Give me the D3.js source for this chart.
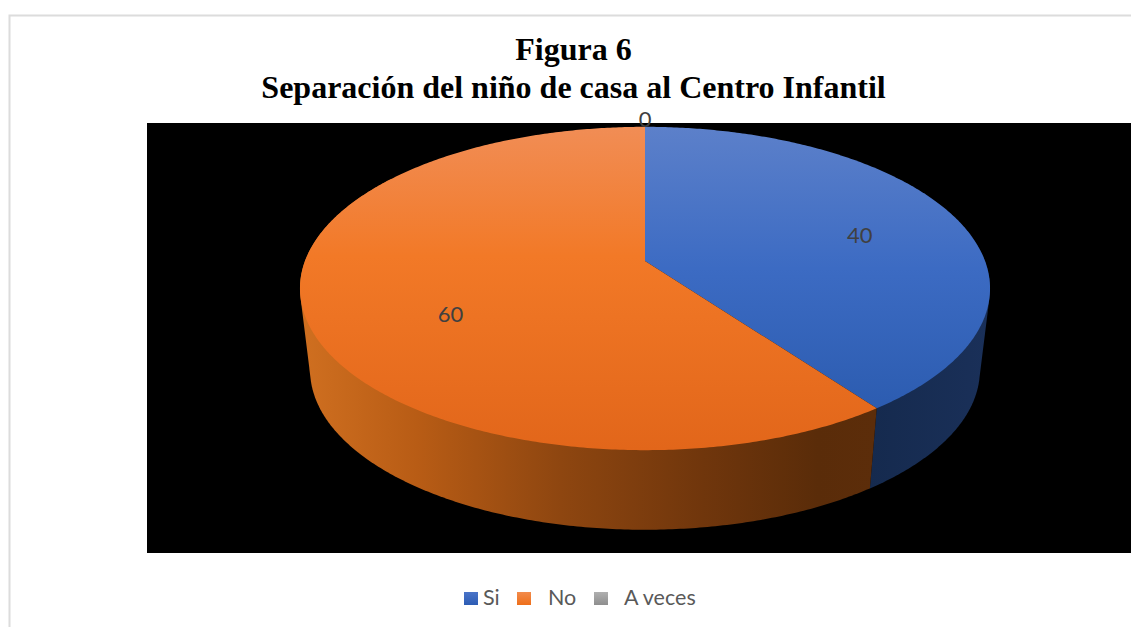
<!DOCTYPE html>
<html>
<head>
<meta charset="utf-8">
<script src="https://cdn.jsdelivr.net/npm/d3@7"></script>
<style>
    html, body { margin: 0; padding: 0; background: #fff; overflow: hidden; }
    svg { display: block; }
</style>
</head>
<body>
<div id="PieChartDiv"></div>
<script>
var categories = ["Si", "No", "A veces"];
var values = [40, 60, 0];
var titleLines = ["Figura 6", "Separación del niño de casa al Centro Infantil"];

var width = 1131;
var height = 628;

var svg = d3.select("#PieChartDiv").append("svg")
    .attr("width", width)
    .attr("height", height);

var defs = svg.append("defs");

function addGradient(id, attrs, stops) {
    var grad = defs.append("linearGradient")
        .attr("id", id)
        .attr("gradientUnits", "userSpaceOnUse");
    Object.keys(attrs).forEach(function(k) { grad.attr(k, attrs[k]); });
    stops.forEach(function(s) {
        grad.append("stop").attr("offset", s[0]).attr("stop-color", s[1]);
    });
}

//Top of the pie is lighter at the back, side gets darker towards the right
addGradient("topSi", {x1: 0, x2: 0, y1: 127, y2: 410},
    [[0, "#5c80ca"], [0.5, "#3c6bc3"], [1, "#2c5cb0"]]);
addGradient("topNo", {x1: 0, x2: 0, y1: 127, y2: 450},
    [[0, "#f18d55"], [0.4, "#f27927"], [1, "#e2661a"]]);
addGradient("sideSi", {x1: 870, x2: 990, y1: 0, y2: 0},
    [[0, "#152a4e"], [1, "#1a3059"]]);
addGradient("sideNo", {x1: 303, x2: 875, y1: 0, y2: 0},
    [[0, "#cf6f20"], [0.2, "#b85c15"], [0.45, "#8e4610"], [0.7, "#70360c"], [0.9, "#5a2c09"], [1, "#5c2d0a"]]);
addGradient("keySi", {x1: 0, x2: 0, y1: 592, y2: 605}, [[0, "#4a74c8"], [1, "#2c5cb4"]]);
addGradient("keyNo", {x1: 0, x2: 0, y1: 592, y2: 605}, [[0, "#f28b4c"], [1, "#ee6f1a"]]);
addGradient("keyVeces", {x1: 0, x2: 0, y1: 592, y2: 605}, [[0, "#b0b0b0"], [1, "#8e8e8e"]]);

var topFills = ["url(#topSi)", "url(#topNo)", "#a5a5a5"];
var sideFills = ["url(#sideSi)", "url(#sideNo)", "#555"];
var keyFills = ["url(#keySi)", "url(#keyNo)", "url(#keyVeces)"];

//outer border, top and left only reach the picture
svg.append("path")
    .attr("d", "M9.5,627V15.5H" + width)
    .attr("fill", "none")
    .attr("stroke", "#dcdcdc")
    .attr("stroke-width", 2);

svg.append("rect")
    .attr("x", 147)
    .attr("y", 123)
    .attr("width", width - 147)
    .attr("height", 430)
    .attr("fill", "#000");

//Perspective projection of the disc. k is the strength of the perspective.
var k = 0.17;
var topFace = {cx: 645, cy: 261, rx: 340, ry: 157};
var bottomFace = {cx: 645, cy: 343, rx: 330, ry: 155};

function project(face, angle, r) {
    var u = Math.sin(angle) * r;
    var v = -Math.cos(angle) * r;
    var s = 1 / (1 - k * v);
    return [face.cx + face.rx * u * s, face.cy + face.ry * v * s];
}

var pie = d3.pie().sort(null).value(function(d) { return d; });
var arcs = pie(values);
var line = d3.line();

function angles(a0, a1) {
    var n = Math.max(2, Math.ceil((a1 - a0) / 0.01));
    return d3.range(n + 1).map(function(i) { return a0 + (a1 - a0) * i / n; });
}

//Side walls first, only the part that faces the viewer.
//The hull of both rims gives the straight silhouette at the far left and right,
//the top face drawn afterwards hides the upper chord.
var sideFrom = 55 * Math.PI / 180;
var sideTo = 305 * Math.PI / 180;

svg.append("g").selectAll("path")
    .data(arcs.filter(function(d) { return d.value > 0; }))
    .enter().append("path")
    .attr("d", function(d) {
        var list = angles(Math.max(d.startAngle, sideFrom), Math.min(d.endAngle, sideTo));
        var upper = list.map(function(a) { return project(topFace, a, 1); });
        var lower = list.map(function(a) { return project(bottomFace, a, 1); });
        return line(d3.polygonHull(upper.concat(lower))) + "Z";
    })
    .attr("fill", function(d) { return sideFills[d.index]; });

svg.append("g").selectAll("path")
    .data(arcs.filter(function(d) { return d.value > 0; }))
    .enter().append("path")
    .attr("d", function(d) {
        var rim = angles(d.startAngle, d.endAngle).map(function(a) { return project(topFace, a, 1); });
        return line([[topFace.cx, topFace.cy]].concat(rim)) + "Z";
    })
    .attr("fill", function(d) { return topFills[d.index]; });

//Data labels. Radius and angle nudge put them where the original sits.
var labelRadius = [0.672, 0.628, 1.07];
var labelNudge = [3.3, -12.5, 0];

svg.append("g").selectAll("text")
    .data(arcs)
    .enter().append("text")
    .attr("transform", function(d) {
        var mid = (d.startAngle + d.endAngle) / 2 + labelNudge[d.index] * Math.PI / 180;
        return "translate(" + project(topFace, mid, labelRadius[d.index]) + ")";
    })
    .attr("text-anchor", "middle")
    .attr("dy", "0.36em")
    .style("font", "22px Lato, sans-serif")
    .style("fill", "#404040")
    .text(function(d) { return d.value; });

//Title
svg.append("g").selectAll("text")
    .data(titleLines)
    .enter().append("text")
    .attr("x", 573.5)
    .attr("y", function(d, i) { return 60 + i * 38; })
    .attr("text-anchor", "middle")
    .style("font", "bold 32px 'Liberation Serif', serif")
    .style("fill", "#000")
    .text(function(d) { return d; });

//Legend
var keyX = [464, 517, 594];
var keyTextX = [483, 548, 624];

var key = svg.append("g").selectAll("g")
    .data(categories)
    .enter().append("g");

key.append("rect")
    .attr("x", function(d, i) { return keyX[i]; })
    .attr("y", 592)
    .attr("width", 14)
    .attr("height", 13)
    .attr("fill", function(d, i) { return keyFills[i]; });

key.append("text")
    .attr("x", function(d, i) { return keyTextX[i]; })
    .attr("y", 605)
    .style("font", "21.5px Lato, sans-serif")
    .style("fill", "#595959")
    .text(function(d) { return d; });
</script>
</body>
</html>
